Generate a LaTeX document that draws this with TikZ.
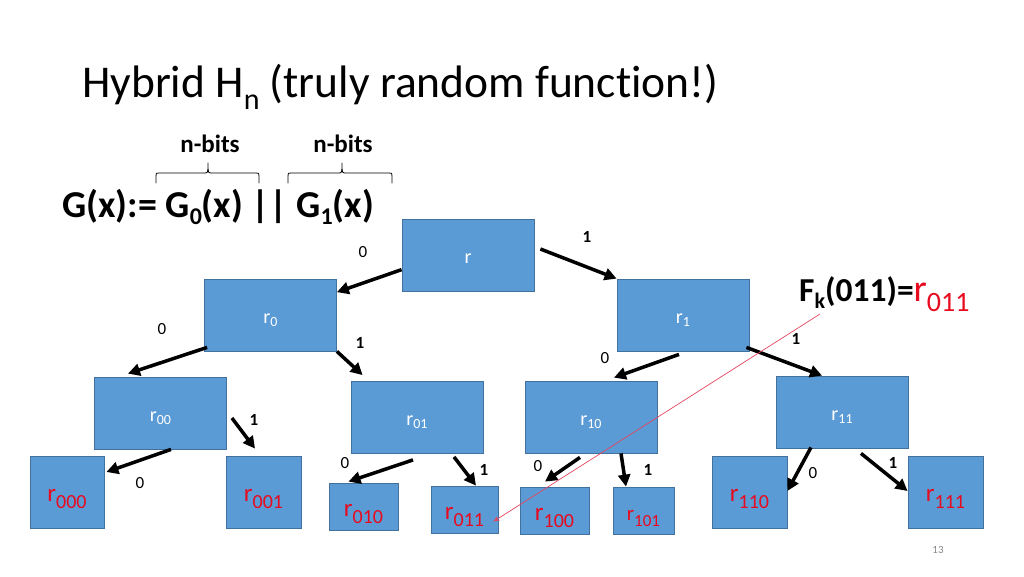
\documentclass[tikz,border=0pt]{standalone}
\usepackage{fontspec}
\setmainfont{Carlito}[Ligatures=NoCommon]
\usetikzlibrary{arrows.meta,calc}
\definecolor{boxblue}{RGB}{91,155,213}
\definecolor{boxedge}{RGB}{65,113,156}
\definecolor{leafred}{RGB}{232,10,30}
\definecolor{pinkline}{RGB}{228,70,95}
\definecolor{pggray}{RGB}{137,137,137}
\newcommand\sz[1]{\fontsize{#1}{#1}\selectfont}
\newcommand\lo[3]{\raisebox{-#1}{\sz{#2}#3}}
\tikzset{
  box/.style={draw=boxedge, fill=boxblue, line width=0.8pt, inner sep=0pt, text=white, font=\sz{20}},
  inner/.style={box, minimum width=132pt, minimum height=72pt, text height=16pt, text depth=0pt},
  leaf/.style={box, text=leafred, font=\sz{25}, text height=19pt, text depth=0pt},
  arr/.style={line width=3.5pt, -{Triangle[length=12pt,width=12pt]}},
  el/.style={inner sep=0pt, font=\sz{17}},
  redln/.style={draw=pinkline, line width=0.7pt, -{Stealth[length=6pt,width=5pt]}},
  bracedraw/.style={line width=0.8pt, line cap=round, line join=round}
}
\begin{document}
\begin{tikzpicture}[x=1pt,y=-1pt]
\useasboundingbox (0,0) rectangle (1024,576);
% title
\node[anchor=base west, inner sep=0pt] (title) at (82,97) {\sz{45.5}Hybrid H\lo{12pt}{30}{n} (truly random function!)};
% G(x) definition
\node[anchor=base west, inner sep=0pt] (gx) at (62,217) {\sz{38}\bfseries G(x):= G\lo{7pt}{24}{0}(x) || G\lo{7pt}{24}{1}(x)};
\node[anchor=base, inner sep=0pt] (nb1) at (210,152) {\sz{25}\bfseries n-bits};
\node[anchor=base, inner sep=0pt] (nb2) at (343,152) {\sz{25}\bfseries n-bits};
\draw[bracedraw] (156,183) -- (156,176) .. controls (156,173) .. (159,173) -- (204,173) .. controls (208,173) .. (208,163)
  .. controls (208,173) .. (212,173) -- (256,173) .. controls (259,173) .. (259,176) -- (259,183);
\draw[bracedraw] (288,183) -- (288,176) .. controls (288,173) .. (291,173) -- (338,173) .. controls (342,173) .. (342,163)
  .. controls (342,173) .. (346,173) -- (389,173) .. controls (392,173) .. (392,176) -- (392,183);
% inner boxes
\node[inner] (r) at (468,255.5) {r};
\node[inner] (r0) at (270.5,315) {r\lo{3pt}{14}{0}};
\node[inner] (r1) at (683,315) {r\lo{3pt}{14}{1}};
\node[inner] (r00) at (160.5,413) {r\lo{3pt}{14}{00}};
\node[inner] (r01) at (417,417.5) {r\lo{3pt}{14}{01}};
\node[inner] (r10) at (591,417) {r\lo{3pt}{14}{10}};
\node[inner] (r11) at (842,412) {r\lo{3pt}{14}{11}};
% leaves
\node[leaf, minimum width=74pt, minimum height=72pt] (r000) at (67,492) {r\lo{7pt}{20}{000}};
\node[leaf, minimum width=75pt, minimum height=72pt] (r001) at (263.5,492) {r\lo{7pt}{20}{001}};
\node[leaf, minimum width=69pt, minimum height=47pt] (r010) at (363.5,506.5) {r\lo{7pt}{20}{010}};
\node[leaf, minimum width=67pt, minimum height=47pt] (r011) at (464.5,509.5) {r\lo{7pt}{20}{011}};
\node[leaf, minimum width=69pt, minimum height=47pt] (r100) at (554.5,510.5) {r\lo{7pt}{20}{100}};
\node[leaf, minimum width=61pt, minimum height=47pt, font=\sz{21}] (r101) at (643.5,510.5) {r\lo{6pt}{17}{101}};
\node[leaf, minimum width=75pt, minimum height=72pt] (r110) at (749.5,492) {r\lo{7pt}{20}{110}};
\node[leaf, minimum width=75pt, minimum height=72pt] (r111) at (945.5,492) {r\lo{7pt}{20}{111}};
% arrows
\draw[arr] (r.192) -- (r0.19);
\draw[arr] ($(r.east)+(6,-6.5)$) -- (r1.north west);
\draw[arr] ($(r0.south west)+(3,-4)$) -- ($(r00.north)+(-32.5,-3)$);
\draw[arr] (r0.south east) -- ($(r01.north west)+(12,-6)$);
\draw[arr] ($(r1.south)+(-4,3)$) -- ($(r10.north)+(23,-3)$);
\draw[arr] ($(r1.south east)+(-3,-4)$) -- ($(r11.north)+(-20,0)$);
\draw[arr] ($(r00.south)+(10.5,0)$) -- ($(r000.east)+(2,-20)$);
\draw[arr] ($(r00.east)+(5,5)$) -- ($(r001.north)+(-8.5,-7)$);
\draw[arr] ($(r01.south)+(-4,6)$) -- ($(r010.north)+(-15,-1)$);
\draw[arr] ($(r01.south)+(37,3)$) -- ($(r011.north)+(11.5,0)$);
\draw[arr] ($(r10.south)+(-11,4)$) -- ($(r100.north)+(-9.5,-5)$);
\draw[arr] ($(r10.south)+(30,0)$) -- ($(r101.north)+(-17.5,0)$);
\draw[arr] ($(r11.south)+(-31,-1)$) -- ($(r110.east)+(0,-1)$);
\draw[arr] ($(r11.south)+(19,5)$) -- ($(r111.west)+(0,-1)$);
% edge labels
\node[el] (e1) at (587,237) {\bfseries 1};
\node[el] (e2) at (363,252) {0};
\node[el] (e3) at (162,329) {0};
\node[el] (e4) at (360,343) {\bfseries 1};
\node[el] (e5) at (605,358) {0};
\node[el] (e6) at (796,339) {\bfseries 1};
\node[el] (e7) at (140,483) {0};
\node[el] (e8) at (254,420) {\bfseries 1};
\node[el] (e9) at (345,463) {0};
\node[el] (e10) at (484,470) {\bfseries 1};
\node[el] (e11) at (538,466) {0};
\node[el] (e12) at (648,470) {\bfseries 1};
\node[el] (e13) at (813,473) {0};
\node[el] (e14) at (893,463) {\bfseries 1};
% F_k label and pointer
\node[anchor=base west, inner sep=0pt] (fk) at (799,301) {\sz{33.5}\bfseries F\lo{7pt}{22}{k}(011)=\mdseries\color{leafred}\sz{38}r\lo{10pt}{28}{011}};
\coordinate (fs) at (820,314);
\draw[redln] (fs) -- ($(r011.east)+(-5,12)$);
% page number
\node[inner sep=0pt] (pg) at (938,550) {\sz{11}\color{pggray}13};
\end{tikzpicture}
\end{document}
